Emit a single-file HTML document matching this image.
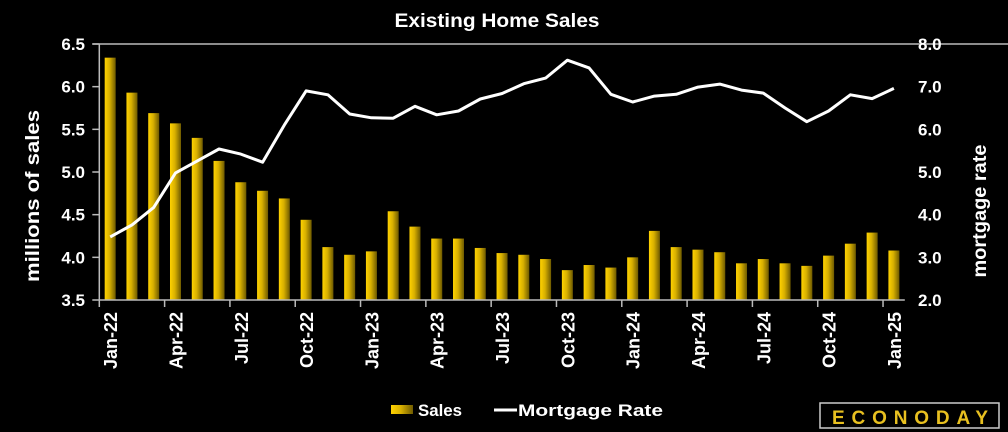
<!DOCTYPE html>
<html><head><meta charset="utf-8"><style>
html,body{margin:0;padding:0;background:#000;width:1008px;height:432px;overflow:hidden}
text{font-family:"Liberation Sans",sans-serif;fill:#fff;font-weight:bold}
</style></head><body>
<svg id="c" width="1008" height="432" xmlns="http://www.w3.org/2000/svg">
<defs><linearGradient id="g" x1="0" x2="1" y1="0" y2="0"><stop offset="0" stop-color="#ffd200"/><stop offset="0.45" stop-color="#d8b000"/><stop offset="1" stop-color="#6e5a00"/></linearGradient></defs>
<text x="497" y="27" text-anchor="middle" font-size="19" textLength="205" lengthAdjust="spacingAndGlyphs">Existing Home Sales</text>
<g id="plot"></g>
<text transform="translate(39,196) rotate(-90)" text-anchor="middle" font-size="19" textLength="172" lengthAdjust="spacingAndGlyphs">millions of sales</text>
<text transform="translate(986,211) rotate(-90)" text-anchor="middle" font-size="19" textLength="133" lengthAdjust="spacingAndGlyphs">mortgage rate</text>
<g>
<rect x="391" y="405" width="22" height="9" fill="url(#g)"/>
<text x="418" y="416" font-size="17" textLength="44" lengthAdjust="spacingAndGlyphs">Sales</text>
<line x1="494" y1="410" x2="517" y2="410" stroke="#fff" stroke-width="3"/>
<text x="518" y="416" font-size="17" textLength="145" lengthAdjust="spacingAndGlyphs">Mortgage Rate</text>
</g>
<g>
<rect x="820" y="403" width="179" height="25" fill="#000" stroke="#ccc" stroke-width="1.5"/>
<text x="832" y="424" font-size="19" textLength="156" lengthAdjust="spacing" style="fill:#e8c020">ECONODAY</text>
</g>
</svg>
<script>
const months=["Jan-22","Feb-22","Mar-22","Apr-22","May-22","Jun-22","Jul-22","Aug-22","Sep-22","Oct-22","Nov-22","Dec-22","Jan-23","Feb-23","Mar-23","Apr-23","May-23","Jun-23","Jul-23","Aug-23","Sep-23","Oct-23","Nov-23","Dec-23","Jan-24","Feb-24","Mar-24","Apr-24","May-24","Jun-24","Jul-24","Aug-24","Sep-24","Oct-24","Nov-24","Dec-24","Jan-25"];
const sales=[6.34,5.93,5.69,5.57,5.40,5.13,4.88,4.78,4.69,4.44,4.12,4.03,4.07,4.54,4.36,4.22,4.22,4.11,4.05,4.03,3.98,3.85,3.91,3.88,4.00,4.31,4.12,4.09,4.06,3.93,3.98,3.93,3.90,4.02,4.16,4.29,4.08];
const rate=[3.48,3.76,4.17,4.98,5.26,5.54,5.42,5.23,6.10,6.90,6.81,6.36,6.27,6.26,6.54,6.34,6.43,6.71,6.84,7.07,7.20,7.62,7.44,6.82,6.64,6.78,6.82,6.99,7.06,6.92,6.85,6.50,6.18,6.43,6.81,6.72,6.96];
const leftTicks=["3.5","4.0","4.5","5.0","5.5","6.0","6.5"];
const rightTicks=["2.0","3.0","4.0","5.0","6.0","7.0","8.0"];
const NS="http://www.w3.org/2000/svg",p=document.getElementById('plot');
const X0=99.3,X1=904.8,Y0=300,Y1=44;
const step=(X1-X0)/months.length;
const xc=i=>X0+step*(i+0.5);
const yl=v=>Y0-(v-3.5)/3*(Y0-Y1);
const yr=v=>Y0-(v-2)/6*(Y0-Y1);
function mk(t,a){const e=document.createElementNS(NS,t);for(const k in a)e.setAttribute(k,a[k]);p.appendChild(e);return e;}
sales.forEach((v,i)=>{const r=mk('rect',{x:xc(i)-5.5,y:yl(v),width:11,height:Y0-yl(v),fill:'url(#g)'});

});
let d=rate.map((v,i)=>(i?'L':'M')+xc(i).toFixed(1)+' '+yr(v).toFixed(1)).join(' ');
const ln=mk('path',{d:d,fill:'none',stroke:'#fff','stroke-width':3,'stroke-linejoin':'round'});


const ax=[[X0,Y1,X0,Y0],[X0,Y0,X1,Y0],[X0-7,Y1,1008,Y1]];
ax.forEach((a,k)=>{const l=mk('line',{x1:a[0],y1:a[1],x2:a[2],y2:a[3],stroke:'#bbb','stroke-width':1.5});

});
leftTicks.forEach((t,i)=>{const y=Y0-i*(Y0-Y1)/6;
const tk=mk('line',{x1:X0-7,y1:y,x2:X0,y2:y,stroke:'#bbb','stroke-width':1.5});


const e=mk('text',{x:85,y:y+6,'text-anchor':'end','font-size':17});e.textContent=t;

});
rightTicks.forEach((t,i)=>{const y=Y0-i*(Y0-Y1)/6;
const e=mk('text',{x:918,y:y+6,'font-size':17});e.textContent=t;

});
months.forEach((m,i)=>{if(i%3)return;
const tx=X0+step*i;
const tk=mk('line',{x1:tx,y1:Y0,x2:tx,y2:Y0+7,stroke:'#bbb','stroke-width':1.5});


const e=mk('text',{transform:`translate(${xc(i)+7},${312}) rotate(-90)`,'text-anchor':'end','font-size':18});e.textContent=m;

});
</script>
</body></html>
